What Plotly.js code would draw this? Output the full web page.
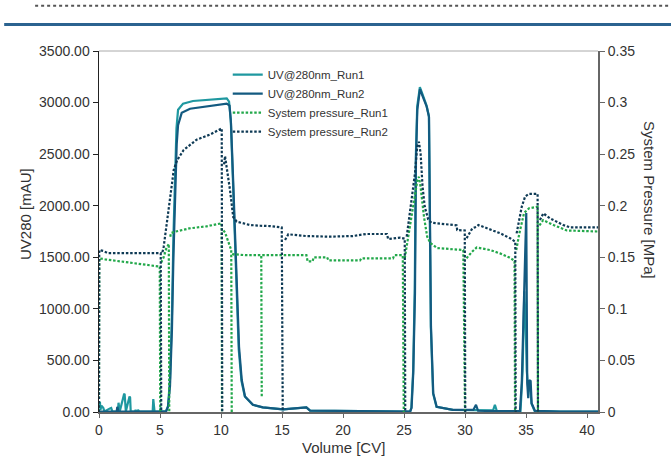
<!DOCTYPE html>
<html><head><meta charset="utf-8">
<script src="https://cdn.plot.ly/plotly-3.0.1.min.js"></script>
<style>html,body{margin:0;padding:0;background:#fff}#chart{width:671px;height:472px}</style>
</head><body><div id="chart"></div>
<script>
// UV280 Run1 (mAU)
const uv1X = [0,0.08,0.12,0.2,0.35,0.4,0.45,0.9,1.0,1.1,1.55,1.6,1.7,2.05,2.1,2.2,2.5,2.55,2.6,2.95,3.0,3.05,3.15,3.2,3.3,4.4,4.45,4.55,5.0,5.05,5.1,5.5,5.66,5.82,5.98,6.1,6.23,6.35,6.48,6.89,7.7,9.0,10.47,10.66,10.8,10.96,11.12,11.27,11.45,11.68,11.95,12.6,13.4,15.1,16.5,17.0,17.3,20.6,24.7,25.5,25.6,25.75,25.88,25.97,26.08,26.3,26.52,26.85,27.04,27.12,27.2,27.38,27.66,29.0,30.7,32.3,32.45,32.6,33.5,34.55,34.72,34.86,34.96,35.06,35.2,35.3,35.45,35.7,37.8,40.9];
const uv1Y = [95,90,20,60,40,10,5,35,40,5,5,90,5,170,175,5,150,140,5,5,20,5,5,20,5,5,125,5,5,45,5,10,60,320,950,1700,2250,2750,2930,2990,3015,3025,3040,3010,2830,2300,1680,1180,610,300,150,70,45,26,40,45,14,8,3,3,40,400,1200,2480,2960,3150,3080,2970,2870,1800,820,180,50,20,18,15,70,12,8,8,400,1170,900,400,200,300,80,10,5,5];
// UV280 Run2 (mAU)
const uv2X = [0,1.45,1.5,1.6,5.5,5.66,5.82,5.98,6.1,6.23,6.37,6.48,6.78,7.46,9.1,10.47,10.7,10.82,10.98,11.15,11.29,11.48,11.7,11.97,12.62,13.44,15.08,16.48,17.0,17.3,20.6,24.7,25.5,25.62,25.76,25.9,25.98,26.09,26.31,26.53,26.86,27.05,27.13,27.21,27.4,27.68,29.0,30.68,30.9,31.07,32.9,34.5,34.65,34.78,34.92,35.02,35.1,35.18,35.27,35.38,35.46,35.74,37.8,40.9];
const uv2Y = [5,5,50,5,5,50,250,800,1500,2100,2600,2780,2900,2940,2965,2990,2970,2800,2300,1700,1200,630,310,150,70,45,26,40,45,14,8,3,3,40,380,1150,2440,2930,3130,3060,2960,2860,1800,830,180,50,20,20,70,12,8,8,280,890,1400,1930,280,135,310,300,85,10,5,5];
// System pressure Run1 (MPa); null = pump restart (no line back up)
const p1X = [0,0.02,0.5,2.5,4.98,5.02,5.04,5.1,5.3,5.5,5.72,5.76,5.78,5.84,5.9,6.3,7.4,8.8,10.05,10.08,10.1,10.2,10.33,10.6,10.84,10.88,10.9,10.96,11.0,12.0,13.3,13.34,13.36,13.38,17.0,17.1,17.5,17.6,18.7,18.8,21.4,21.5,24.1,24.2,24.9,24.98,25.0,25.06,25.4,25.8,26.1,26.22,26.36,26.64,26.9,27.15,27.7,29.86,30.0,30.02,30.12,30.55,30.96,31.1,32.05,32.87,33.6,34.06,34.1,34.12,34.2,34.45,34.84,35.25,35.95,35.98,36.0,36.1,36.4,37.25,38.35,40.9];
const p1Y = [0,0.149,0.148,0.145,0.141,0,null,0.145,0.150,0.158,0.163,0,null,0.170,0.1735,0.175,0.178,0.180,0.183,0,null,0.176,0.174,0.165,0.157,0,null,0.152,0.153,0.152,0.152,0.015,null,0.152,0.152,0.146,0.146,0.150,0.150,0.147,0.147,0.149,0.149,0.152,0.152,0,null,0.149,0.173,0.2055,0.225,0.228,0.218,0.189,0.170,0.164,0.159,0.157,0,null,0.149,0.155,0.1596,0.1593,0.157,0.1538,0.150,0.1467,0,null,0.157,0.173,0.193,0.1975,0.199,0,null,0.181,0.186,0.1813,0.176,0.175];
// System pressure Run2 (MPa)
const p2X = [0,0.02,0.4,0.7,5.06,5.1,5.12,5.2,5.3,5.59,5.86,6.13,6.4,6.94,8.0,9.1,10.06,10.1,10.12,10.25,10.33,10.74,11.0,11.29,12.38,13.2,14.0,14.98,15.06,15.08,15.25,15.52,17.0,18.9,20.8,21.9,23.6,23.7,24.7,25.06,25.1,25.12,25.22,25.62,25.9,26.08,26.22,26.36,26.52,26.7,26.98,27.25,28.5,29.3,29.36,29.98,30.02,30.04,30.14,30.2,30.6,30.96,31.1,31.8,32.9,33.7,34.12,34.15,34.17,34.23,34.65,34.92,35.2,35.95,35.98,36.0,36.14,36.42,36.96,38.05,38.6,40.9];
const p2Y = [0,0.157,0.156,0.154,0.154,0,null,0.155,0.160,0.186,0.212,0.235,0.244,0.254,0.264,0.269,0.275,0,null,0.240,0.248,0.215,0.189,0.1845,0.1813,0.1806,0.1803,0.179,0,null,0.1668,0.1723,0.1706,0.170,0.1706,0.1726,0.1726,0.1677,0.169,0.168,0,null,0.170,0.2055,0.2314,0.2572,0.262,0.2508,0.2184,0.199,0.1868,0.1835,0.1823,0.181,0.1764,0.176,0,null,0.1684,0.170,0.178,0.1797,0.1813,0.178,0.1732,0.1684,0.1651,0,null,0.1732,0.199,0.2087,0.2114,0.2114,0,null,0.1861,0.1926,0.1878,0.1813,0.179,0.179];

const seriesNames = ['UV@280nm_Run1','UV@280nm_Run2','System pressure_Run1','System pressure_Run2'];
const yTicks = [0,500,1000,1500,2000,2500,3000,3500];
const y2Ticks = [0,0.05,0.1,0.15,0.2,0.25,0.3,0.35];
const xTicks = [0,5,10,15,20,25,30,35,40];

const FONT = 'Liberation Sans, Arial, sans-serif';
const traces = [
  {x: uv1X, y: uv1Y, name: seriesNames[0], type: 'scatter', mode: 'lines', line: {color: '#1f98a0', width: 2.2}},
  {x: uv2X, y: uv2Y, name: seriesNames[1], type: 'scatter', mode: 'lines', line: {color: '#135a80', width: 2.2}},
  {x: p1X, y: p1Y, name: seriesNames[2], type: 'scatter', mode: 'lines', yaxis: 'y2', connectgaps: false, line: {color: '#22a84a', width: 2.2, dash: '2.5px,1.8px'}},
  {x: p2X, y: p2Y, name: seriesNames[3], type: 'scatter', mode: 'lines', yaxis: 'y2', connectgaps: false, line: {color: '#0e3a55', width: 2.2, dash: '2.5px,1.8px'}}
];

const layout = {
  width: 671, height: 472,
  margin: {l: 99, r: 73, t: 51, b: 60},
  paper_bgcolor: '#fff', plot_bgcolor: '#fff',
  font: {family: FONT, size: 14, color: '#333'},
  showlegend: true,
  legend: {x: 0.258, y: 0.975, xanchor: 'left', yanchor: 'top', bgcolor: 'rgba(0,0,0,0)', font: {size: 11.5, color: '#333', family: FONT}},
  xaxis: {range: [0, 40.9], tickvals: xTicks, ticks: 'outside', ticklen: 4, tickcolor: '#666', showgrid: false, zeroline: false,
          showline: true, linecolor: '#666', linewidth: 2, tickfont: {size: 14, color: '#333'}},
  yaxis: {range: [0, 3500], tickvals: yTicks, tickformat: '.2f', ticks: 'outside', ticklen: 5, tickcolor: '#222', showgrid: false, zeroline: false,
          showline: true, linecolor: '#222', linewidth: 1.5, tickfont: {size: 14, color: '#333'}},
  yaxis2: {range: [0, 0.35], tickvals: y2Ticks, overlaying: 'y', side: 'right', ticks: 'outside', ticklen: 5, tickcolor: '#666', showgrid: false, zeroline: false,
           showline: true, linecolor: '#666', linewidth: 2, tickfont: {size: 14, color: '#333'}},
  shapes: [
    {type: 'line', xref: 'paper', yref: 'paper', x0: 0, x1: 1, y0: 1, y1: 1, line: {color: '#aaa', width: 1}},
    {type: 'line', xref: 'paper', yref: 'paper', x0: -0.19, x1: 1.15, y0: 1.0734, y1: 1.0734, line: {color: '#2b6390', width: 3}},
    {type: 'line', xref: 'paper', yref: 'paper', x0: -0.128, x1: 1.15, y0: 1.1255, y1: 1.1255, line: {color: '#555', width: 2, dash: 'dot'}}
  ],
  annotations: [
    {text: 'UV280 [mAU]', xref: 'paper', yref: 'paper', x: -0.1463, y: 0.5485, xanchor: 'center', yanchor: 'middle', textangle: -90, showarrow: false, font: {size: 15, color: '#333'}},
    {text: 'System Pressure [MPa]', xref: 'paper', yref: 'paper', x: 1.1042, y: 0.587, xanchor: 'center', yanchor: 'middle', textangle: 90, showarrow: false, font: {size: 15, color: '#333'}},
    {text: 'Volume [CV]', xref: 'paper', yref: 'paper', x: 0.489, y: -0.097, xanchor: 'center', yanchor: 'middle', showarrow: false, font: {size: 15, color: '#333'}}
  ]
};
Plotly.newPlot('chart', traces, layout, {staticPlot: true, displayModeBar: false});
</script></body></html>
